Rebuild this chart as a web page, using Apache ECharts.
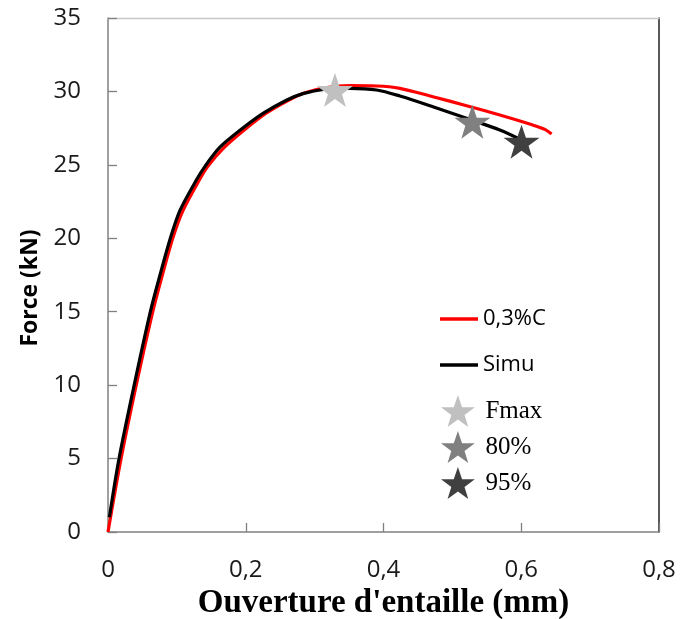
<!DOCTYPE html>
<html>
<head>
<meta charset="utf-8">
<script src="https://cdn.jsdelivr.net/npm/echarts@6/dist/echarts.min.js"></script>
<style>
html,body{margin:0;padding:0;background:#fff;}
#chart{width:680px;height:619px;}
</style>
</head>
<body>
<div id="chart"></div>
<script>
// ---- data ----
var xTickLabels = ['0', '0,2', '0,4', '0,6', '0,8'];
var yTickLabels = ['0', '5', '10', '15', '20', '25', '30', '35'];

var expName = '0,3%C';
var expData = [
  [0, 0], [0.019, 5], [0.041, 10], [0.065, 15], [0.079, 17.5], [0.094, 20],
  [0.109, 21.9], [0.133, 24.0], [0.145, 24.9], [0.167, 26.1], [0.196, 27.3],
  [0.229, 28.5], [0.262, 29.4], [0.285, 29.9], [0.315, 30.25], [0.3512, 30.39],
  [0.39, 30.37], [0.4238, 30.21], [0.4717, 29.64], [0.5206, 29.03],
  [0.5689, 28.39], [0.6168, 27.71], [0.635, 27.4], [0.644, 27.1]
];

var simName = 'Simu';
var simData = [
  [0.002, 1], [0.016, 5], [0.038, 10], [0.0615, 15], [0.0755, 17.5], [0.0905, 20],
  [0.1045, 21.9], [0.1287, 24.0], [0.1408, 24.9], [0.1625, 26.2], [0.1916, 27.35],
  [0.225, 28.5], [0.259, 29.4], [0.283, 29.85], [0.315, 30.15], [0.3512, 30.21],
  [0.39, 30.1], [0.4238, 29.69], [0.4717, 28.96], [0.5206, 28.17],
  [0.5689, 27.37], [0.600, 26.7]
];

var starNames = ['Fmax', '80%', '95%'];
var starPoints = [[0.3295, 30.1], [0.529, 27.94], [0.6004, 26.58]];
var starColors = ['#c0c0c0', '#808080', '#404040'];

// ---- chart ----
var starPath = 'path://M50,0 L61.8,35.1 L98.1,35.1 L68.8,56.7 L79.4,91 L50,70 L20.6,91 L31.2,56.7 L1.9,35.1 L38.2,35.1 Z';
var sans = "'Open Sans', 'Liberation Sans', sans-serif";
var serif = "'Liberation Serif', 'DejaVu Serif', serif";

var chart = echarts.init(document.getElementById('chart'), null, {renderer: 'canvas'});

var series = [
  {
    name: expName, type: 'line', data: expData, smooth: 0.3, symbol: 'none',
    showSymbol: false, xAxisIndex: 0, yAxisIndex: 0,
    lineStyle: {color: '#ff0000', width: 3.2}, itemStyle: {color: '#ff0000'}, z: 2
  },
  {
    name: simName, type: 'line', data: simData, smooth: 0.3, symbol: 'none',
    showSymbol: false, xAxisIndex: 0, yAxisIndex: 0,
    lineStyle: {color: '#000000', width: 3.2}, itemStyle: {color: '#000000'}, z: 3
  }
];
starNames.forEach(function (n, i) {
  series.push({
    name: n, type: 'scatter', data: [starPoints[i]], symbol: starPath,
    symbolSize: [36, 34], xAxisIndex: 0, yAxisIndex: 0,
    itemStyle: {color: starColors[i], opacity: 1}, z: 5
  });
});

var option = {
  backgroundColor: '#ffffff',
  animation: false,
  grid: {left: 108, right: 21, top: 18, bottom: 87, containLabel: false, outerBoundsMode: 'none'},
  legend: [
    {
      data: [{name: expName, icon: 'rect'}, {name: simName, icon: 'rect'}],
      orient: 'vertical', left: 435, top: 303,
      itemWidth: 38, itemHeight: 3.5, itemGap: 24,
      selectedMode: false,
      textStyle: {fontFamily: sans, fontSize: 22, color: '#000'}
    },
    {
      data: starNames.map(function (n) { return {name: n, icon: starPath}; }),
      orient: 'vertical', left: 436, top: 390,
      itemWidth: 35, itemHeight: 32, itemGap: 4,
      selectedMode: false,
      textStyle: {fontFamily: serif, fontSize: 25, color: '#000', padding: [0, 0, 0, 5]}
    }
  ],
  xAxis: [
    {
      type: 'value', min: 0, max: 0.8, interval: 0.2, position: 'bottom',
      name: "Ouverture d'entaille (mm)", nameLocation: 'middle', nameGap: 46,
      nameTextStyle: {fontFamily: serif, fontWeight: 'bold', fontSize: 33, color: '#000'},
      axisLine: {show: true, onZero: false, lineStyle: {color: '#808080', width: 1.5}},
      axisTick: {show: true, inside: true, length: 9, lineStyle: {color: '#808080', width: 1.3}},
      axisLabel: {
        margin: 26, fontFamily: sans, fontSize: 24, color: '#1a1a1a',
        formatter: function (v) { return xTickLabels[Math.round(v / 0.2)]; }
      },
      splitLine: {show: false}
    },
    {
      type: 'value', min: 0, max: 0.8, interval: 0.2, position: 'top',
      axisLine: {show: true, onZero: false, lineStyle: {color: '#c8c8c8', width: 1.3}},
      axisTick: {show: false}, axisLabel: {show: false}, splitLine: {show: false}
    }
  ],
  yAxis: [
    {
      type: 'value', min: 0, max: 35, interval: 5, position: 'left',
      name: 'Force (kN)', nameLocation: 'middle', nameGap: 66,
      nameTextStyle: {fontFamily: sans, fontWeight: 'bold', fontSize: 23, color: '#000', padding: [0, 26, 0, 0]},
      axisLine: {show: true, onZero: false, lineStyle: {color: '#808080', width: 1.5}},
      axisTick: {show: true, inside: true, length: 9, lineStyle: {color: '#808080', width: 1.3}},
      axisLabel: {
        margin: 27, fontFamily: sans, fontSize: 24, color: '#1a1a1a',
        formatter: function (v) { return yTickLabels[Math.round(v / 5)]; }
      },
      splitLine: {show: false}
    },
    {
      type: 'value', min: 0, max: 35, interval: 5, position: 'right',
      axisLine: {show: true, onZero: false, lineStyle: {color: '#222', width: 1.5}},
      axisTick: {show: false}, axisLabel: {show: false}, splitLine: {show: false}
    }
  ],
  series: series
};
chart.setOption(option);
</script>
</body>
</html>
